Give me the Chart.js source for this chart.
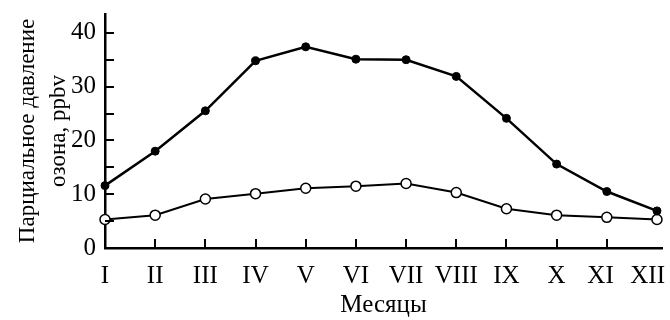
<!DOCTYPE html>
<html>
<head>
<meta charset="utf-8">
<script src="https://cdn.jsdelivr.net/npm/chart.js@4.4.0/dist/chart.umd.min.js"></script>
<style>
  html, body { margin: 0; padding: 0; background: #fff; }
  #wrap { width: 670px; height: 320px; }
</style>
</head>
<body>
<div id="wrap"><canvas id="ozone-chart" width="670" height="320"></canvas></div>
<script>
const months = ['I', 'II', 'III', 'IV', 'V', 'VI', 'VII', 'VIII', 'IX', 'X', 'XI', 'XII'];
const filledValues = [11.6, 18, 25.5, 34.8, 37.4, 35.1, 35, 31.9, 24.1, 15.6, 10.5, 6.9];
const openValues = [5.3, 6.1, 9.1, 10.1, 11.1, 11.5, 12, 10.3, 7.3, 6.1, 5.7, 5.3];
const yTicks = [0, 10, 20, 30, 40];
const yMinorTicks = [5, 15, 25, 35];

const serif = '"Liberation Serif", "Times New Roman", serif';
const toPoints = (values) => values.map((v, i) => ({ x: i + 1, y: v }));

// ticks pointing inward from the axes
const innerTicks = {
  id: 'innerTicks',
  afterDraw(chart) {
    const { ctx, scales: { x, y } } = chart;
    ctx.save();
    ctx.strokeStyle = '#000';
    ctx.lineWidth = 2;
    yTicks.concat(yMinorTicks).forEach(v => {
      if (v === 0) return;
      const py = Math.round(y.getPixelForValue(v));
      ctx.beginPath();
      ctx.moveTo(x.left, py);
      ctx.lineTo(x.left + 9, py);
      ctx.stroke();
    });
    months.forEach((m, i) => {
      if (i === 0 || i === months.length - 1) return;
      const px = Math.round(x.getPixelForValue(i + 1));
      ctx.beginPath();
      ctx.moveTo(px, y.bottom);
      ctx.lineTo(px, y.bottom - 9);
      ctx.stroke();
    });
    ctx.restore();
  }
};

new Chart(document.getElementById('ozone-chart'), {
  type: 'line',
  data: {
    datasets: [{
      data: toPoints(filledValues),
      borderColor: '#000',
      borderWidth: 2.5,
      pointRadius: 4,
      pointBackgroundColor: '#000',
      pointBorderColor: '#000',
      pointBorderWidth: 1,
      tension: 0,
      clip: false
    }, {
      data: toPoints(openValues),
      borderColor: '#000',
      borderWidth: 2,
      pointRadius: 5,
      pointBackgroundColor: '#fff',
      pointBorderColor: '#000',
      pointBorderWidth: 1.5,
      tension: 0,
      clip: false
    }]
  },
  options: {
    responsive: false,
    animation: false,
    layout: { padding: { left: 0, top: 14, right: 8, bottom: 0 } },
    scales: {
      x: {
        type: 'linear',
        min: 1,
        max: 12.1,
        afterBuildTicks: (scale) => { scale.ticks = months.map((m, i) => ({ value: i + 1 })); },
        afterFit: (scale) => {
          scale.height = 72;
          scale.paddingLeft = 0;
          scale.paddingRight = 8;
        },
        grid: { display: false, drawTicks: false },
        border: { display: true, color: '#000', width: 2.5 },
        ticks: {
          color: '#000',
          padding: 13,
          maxRotation: 0,
          autoSkip: false,
          font: { family: serif, size: 25 },
          // last two labels sit a bit left of their ticks, as in the original
          callback: (v) => {
            const label = months[v - 1];
            if (v === 12) return label + '   ';
            if (v === 11) return label + '  ';
            return label;
          }
        },
        title: {
          display: true,
          text: 'Месяцы',
          color: '#000',
          padding: { top: 0, bottom: 0 },
          font: { family: serif, size: 25 }
        }
      },
      y: {
        min: 0,
        max: 43.5,
        afterBuildTicks: (scale) => { scale.ticks = yTicks.map(v => ({ value: v })); },
        afterFit: (scale) => {
          scale.width = 105;
          scale.paddingTop = 0;
          scale.paddingBottom = 0;
        },
        grid: { display: false, drawTicks: false },
        border: { display: true, color: '#000', width: 2.5 },
        ticks: {
          color: '#000',
          padding: 9,
          font: { family: serif, size: 25 }
        },
        title: {
          display: true,
          text: ['Парциальное давление', 'озона, ppbv'],
          color: '#000',
          padding: { top: 12, bottom: 0 },
          font: { family: serif, size: 23, lineHeight: 1.35 }
        }
      }
    },
    plugins: {
      legend: { display: false },
      tooltip: { enabled: false }
    }
  },
  plugins: [innerTicks]
});
</script>
</body>
</html>
